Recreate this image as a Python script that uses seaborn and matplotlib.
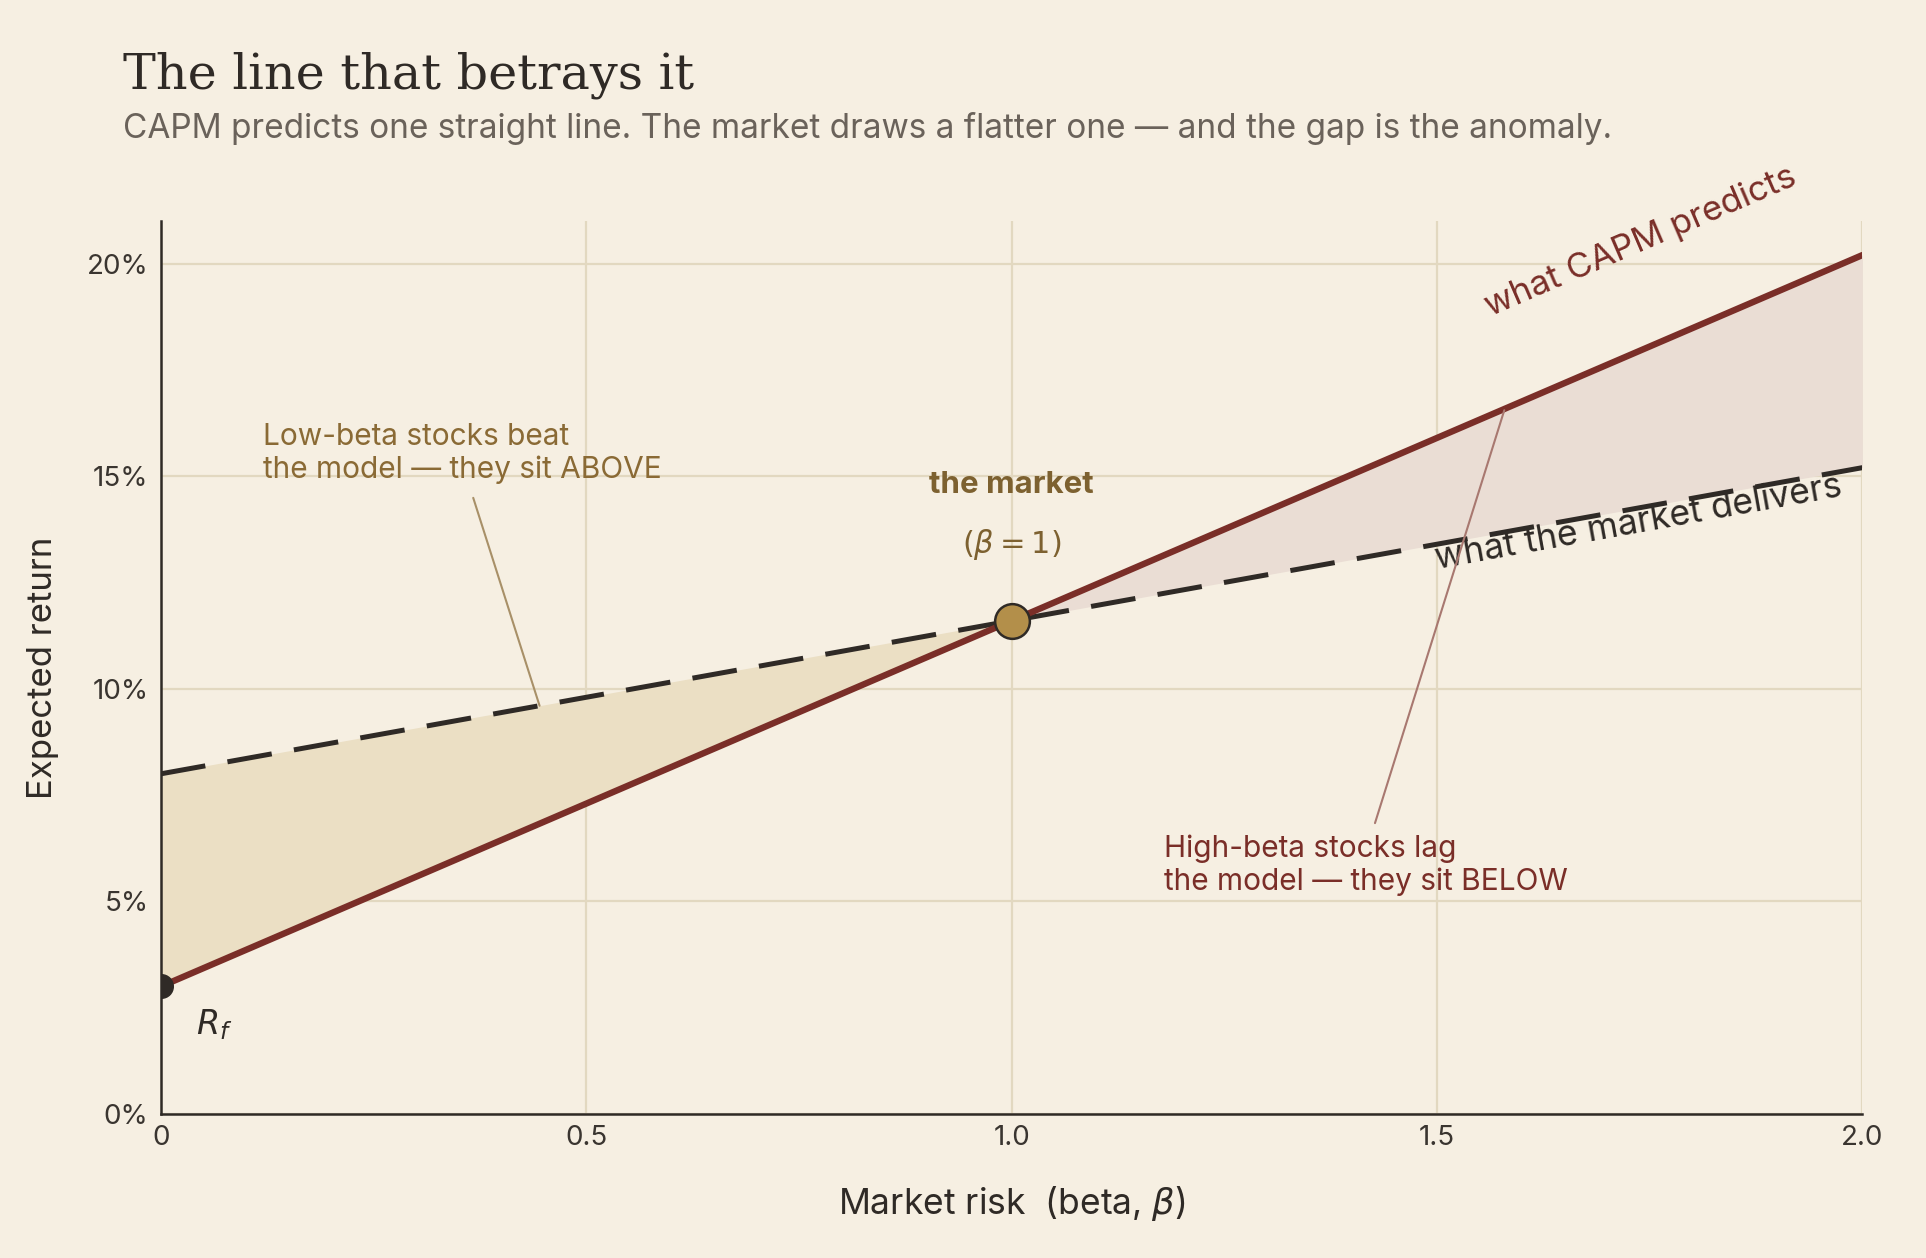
import numpy as np
import pandas as pd
import matplotlib
matplotlib.use("Agg")
import matplotlib.pyplot as plt
import seaborn as sns

# ---- data ----
beta = [0.0, 1.0, 2.0]
capm_pred = [3.0, 11.6, 20.2]       # % expected return predicted by CAPM
market_real = [8.0, 11.6, 15.2]     # % what the market delivers
rf_beta, rf_ret = 0.0, 3.0
mkt_beta, mkt_ret = 1.0, 11.6
x_ticks = [0, 0.5, 1.0, 1.5, 2.0]
x_tick_labels = ["0", "0.5", "1.0", "1.5", "2.0"]
y_ticks = [0, 5, 10, 15, 20]
y_tick_labels = ["0%", "5%", "10%", "15%", "20%"]

BG = "#f6efe2"
RED = "#7a2e28"
DARK = "#2f2a26"
GOLD = "#7d6130"
GOLD_PT = "#b38f4a"
GRID = "#e2d8c0"
SANS = ["Inter", "DejaVu Sans"]
SERIF = ["DejaVu Serif"]

sns.set_theme(style="white")
plt.rcParams["font.family"] = SANS
plt.rcParams["mathtext.fontset"] = "dejavusans"

df = pd.DataFrame({"beta": beta + beta,
                   "ret": capm_pred + market_real,
                   "series": ["capm"] * 3 + ["market"] * 3})

fig = plt.figure(figsize=(19.26, 12.58), dpi=100, facecolor=BG)
ax = fig.add_axes([0.0836, 0.1145, 0.8834, 0.7098])
ax.set_facecolor(BG)

ax.set_xlim(0, 2.0)
ax.set_ylim(0, 21)

b = np.array(beta)
c = np.array(capm_pred)
m = np.array(market_real)
ax.fill_between(b[:2], c[:2], m[:2], color="#ebdfc4", lw=0, zorder=1)
ax.fill_between(b[1:], c[1:], m[1:], color="#eaddd4", lw=0, zorder=1)

sns.lineplot(data=df[df.series == "market"], x="beta", y="ret", ax=ax,
             color=DARK, lw=3.6, zorder=3, legend=False)
ax.lines[-1].set_dashes([9, 4.5])
sns.lineplot(data=df[df.series == "capm"], x="beta", y="ret", ax=ax,
             color=RED, lw=4.6, zorder=4, legend=False)

ax.plot([rf_beta], [rf_ret], "o", color=DARK, ms=17, zorder=6, clip_on=True)
ax.plot([mkt_beta], [mkt_ret], "o", color=GOLD_PT, mec=DARK, mew=1.8, ms=25, zorder=7)

ax.set_xticks(x_ticks)
ax.set_xticklabels(x_tick_labels)
ax.set_yticks(y_ticks)
ax.set_yticklabels(y_tick_labels)
ax.grid(True, color=GRID, lw=1.6, zorder=0)
ax.set_axisbelow(True)
for s in ["top", "right"]:
    ax.spines[s].set_visible(False)
for s in ["left", "bottom"]:
    ax.spines[s].set_color(DARK)
    ax.spines[s].set_linewidth(1.8)
ax.tick_params(axis="both", length=0, labelsize=20, labelcolor="#3a3530")
ax.tick_params(axis="y", pad=9)
ax.tick_params(axis="x", pad=8)

ax.set_xlabel(r"Market risk  (beta, $\beta$)", fontsize=25.5, color=DARK, labelpad=24)
ax.set_ylabel("Expected return", fontsize=25, color=DARK, labelpad=20)

# angles in screen space
def screen_angle(x0, y0, x1, y1):
    p0 = ax.transData.transform((x0, y0))
    p1 = ax.transData.transform((x1, y1))
    return np.degrees(np.arctan2(p1[1] - p0[1], p1[0] - p0[0]))

ang_c = screen_angle(b[0], c[0], b[-1], c[-1])
ang_m = screen_angle(b[0], m[0], b[-1], m[-1])

ax.text(1.739, 20.5, "what CAPM predicts", color=RED, fontsize=25,
        rotation=ang_c, rotation_mode="anchor", ha="center", va="center", zorder=8)
ax.text(1.737, 13.9, "what the market delivers", color=DARK, fontsize=25.5,
        rotation=ang_m, rotation_mode="anchor", ha="center", va="center", zorder=2)

ax.text(1.0, 14.8, "the market", color=GOLD, fontsize=22.5, fontweight="bold",
        ha="center", va="center", zorder=8)
ax.text(1.0, 13.4, r"$(\beta = 1)$", color=GOLD, fontsize=22,
        ha="center", va="center", zorder=8)
ax.text(0.062, 2.1, r"$R_f$", color=DARK, fontsize=24, ha="center", va="center")

# low-beta callout
ax.text(0.12, 15.54, "Low-beta stocks beat\nthe model — they sit ABOVE", color="#8a6a35",
        fontsize=21.5, ha="left", va="center", linespacing=1.2, zorder=8)
ax.annotate("", xy=(0.445, 9.6), xytext=(0.367, 14.49),
            arrowprops=dict(arrowstyle="-", color="#a89068", lw=1.5,
                            shrinkA=0, shrinkB=0), zorder=8)
# high-beta callout
ax.text(1.179, 5.86, "High-beta stocks lag\nthe model — they sit BELOW", color=RED,
        fontsize=21.5, ha="left", va="center", linespacing=1.2, zorder=8)
ax.annotate("", xy=(1.579, 16.55), xytext=(1.427, 6.84),
            arrowprops=dict(arrowstyle="-", color="#a87870", lw=1.5,
                            shrinkA=0, shrinkB=0), zorder=8)

fig.text(0.0639, 0.93, "The line that betrays it", fontsize=35.5, family=SERIF,
         color=DARK, ha="left", va="baseline")
fig.text(0.0639, 0.89,
         "CAPM predicts one straight line. The market draws a flatter one — and the gap is the anomaly.",
         fontsize=24, color="#6a625a", ha="left", va="baseline")

fig.savefig("out.png", dpi=100, facecolor=BG)
